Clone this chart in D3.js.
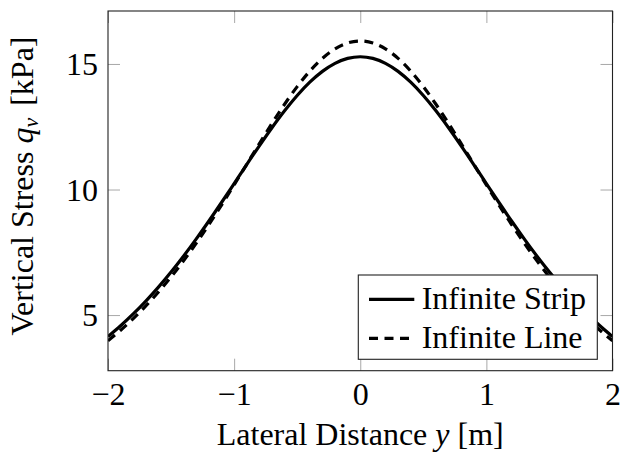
<!DOCTYPE html>
<html>
<head>
<meta charset="utf-8">
<script src="https://cdn.jsdelivr.net/npm/d3@7"></script>
<style>
  html, body { margin: 0; padding: 0; background: #fff; }
  svg { display: block; }
  text { font-family: "Liberation Serif", "Times New Roman", serif; fill: #000; }
</style>
</head>
<body>
<svg id="chart" width="623" height="459"></svg>
<script>
// Lateral positions y [m]
const lateral = [-2.0,-1.9,-1.8,-1.7,-1.6,-1.5,-1.4,-1.3,-1.2,-1.1,-1.0,-0.9,-0.8,-0.7,-0.6,-0.5,-0.4,-0.3,-0.2,-0.1,
                 0.0,0.1,0.2,0.3,0.4,0.5,0.6,0.7,0.8,0.9,1.0,1.1,1.2,1.3,1.4,1.5,1.6,1.7,1.8,1.9,2.0];

// Vertical stress under an infinite strip load [kPa]
const stripStress = [4.144,4.573,5.044,5.557,6.113,6.712,7.353,8.033,8.745,9.483,10.237,10.995,11.741,12.461,13.135,13.745,14.275,14.706,15.025,15.221,
                     15.288,15.221,15.025,14.706,14.275,13.745,13.135,12.461,11.741,10.995,10.237,9.483,8.745,8.033,7.353,6.712,6.113,5.557,5.044,4.573,4.144];

// Vertical stress under an infinite line load [kPa]
const lineStress = [3.979,4.397,4.858,5.364,5.917,6.519,7.169,7.865,8.605,9.381,10.186,11.007,11.828,12.631,13.396,14.098,14.715,15.223,15.602,15.836,
                    15.915,15.836,15.602,15.223,14.715,14.098,13.396,12.631,11.828,11.007,10.186,9.381,8.605,7.865,7.169,6.519,5.917,5.364,4.858,4.397,3.979];

const xTicks = [-2, -1, 0, 1, 2];
const yTicks = [5, 10, 15];
const xDomain = [-2, 2];
const yDomain = [2.785, 17.109];

const seriesNames = ["Infinite Strip", "Infinite Line"];

const svg = d3.select("#chart");
const W = 623, H = 459;
const plot = { left: 108, right: 612.5, top: 11, bottom: 370.7 };
const FONT = 32;
const SERIF = "Liberation Serif, Times New Roman, serif";

svg.append("rect").attr("width", W).attr("height", H).attr("fill", "#fff");

const x = d3.scaleLinear().domain(xDomain).range([plot.left, plot.right]);
const y = d3.scaleLinear().domain(yDomain).range([plot.bottom, plot.top]);

const tickLen = 12;
const tickColor = "#a8a8a8";

// Bottom axis: inward ticks with labels
const gx = svg.append("g")
  .attr("transform", `translate(0,${plot.bottom})`)
  .call(d3.axisBottom(x).tickValues(xTicks).tickSizeInner(-tickLen).tickSizeOuter(0).tickFormat(d3.format("d")));
gx.select(".domain").remove();
gx.selectAll(".tick line").attr("stroke", tickColor).attr("stroke-width", 1);
gx.selectAll(".tick text")
  .attr("y", 34.3).attr("dy", null)
  .style("font-size", FONT + "px").style("font-family", SERIF);

// Top axis: mirrored ticks only
const gxt = svg.append("g")
  .attr("transform", `translate(0,${plot.top})`)
  .call(d3.axisTop(x).tickValues(xTicks).tickSizeInner(-tickLen).tickSizeOuter(0).tickFormat(""));
gxt.select(".domain").remove();
gxt.selectAll(".tick line").attr("stroke", tickColor).attr("stroke-width", 1);

// Left axis: inward ticks with labels
const gy = svg.append("g")
  .attr("transform", `translate(${plot.left},0)`)
  .call(d3.axisLeft(y).tickValues(yTicks).tickSizeInner(-tickLen).tickSizeOuter(0).tickFormat(d3.format("d")));
gy.select(".domain").remove();
gy.selectAll(".tick line").attr("stroke", tickColor).attr("stroke-width", 1);
gy.selectAll(".tick text")
  .attr("x", -10).attr("dy", "0.34em")
  .style("font-size", FONT + "px").style("font-family", SERIF);

// Right axis: mirrored ticks only
const gyr = svg.append("g")
  .attr("transform", `translate(${plot.right},0)`)
  .call(d3.axisRight(y).tickValues(yTicks).tickSizeInner(-tickLen).tickSizeOuter(0).tickFormat(""));
gyr.select(".domain").remove();
gyr.selectAll(".tick line").attr("stroke", tickColor).attr("stroke-width", 1);

// Curves, clipped to the plotting area
svg.append("clipPath").attr("id", "plotClip")
  .append("rect")
  .attr("x", plot.left).attr("y", plot.top)
  .attr("width", plot.right - plot.left).attr("height", plot.bottom - plot.top);

const line = d3.line().curve(d3.curveMonotoneX)
  .x(d => x(d[0])).y(d => y(d[1]));

const curves = svg.append("g").attr("clip-path", "url(#plotClip)");
curves.append("path")
  .datum(lateral.map((v, i) => [v, lineStress[i]]))
  .attr("d", line).attr("fill", "none").attr("stroke", "#000")
  .attr("stroke-width", 3.2).attr("stroke-dasharray", "9,6.5");
curves.append("path")
  .datum(lateral.map((v, i) => [v, stripStress[i]]))
  .attr("d", line).attr("fill", "none").attr("stroke", "#000")
  .attr("stroke-width", 3.2);

// Frame
svg.append("rect")
  .attr("x", plot.left).attr("y", plot.top)
  .attr("width", plot.right - plot.left).attr("height", plot.bottom - plot.top)
  .attr("fill", "none").attr("stroke", "#222").attr("stroke-width", 1.1);

// Axis titles
svg.append("text")
  .attr("x", (plot.left + plot.right) / 2).attr("y", 445)
  .attr("text-anchor", "middle").style("font-size", FONT + "px")
  .call(t => {
    t.append("tspan").text("Lateral Distance ");
    t.append("tspan").style("font-style", "italic").text("y");
    t.append("tspan").text(" [m]");
  });

svg.append("text")
  .attr("transform", "translate(33,186) rotate(-90)")
  .attr("text-anchor", "middle").style("font-size", FONT + "px")
  .call(t => {
    t.append("tspan").text("Vertical Stress ");
    t.append("tspan").style("font-style", "italic").text("q");
    t.append("tspan").style("font-style", "italic").style("font-size", "22px").attr("dy", 5).text("v");
    t.append("tspan").attr("dy", -5).attr("dx", 12).text("[kPa]");
  });

// Legend
const lg = svg.append("g");
lg.append("rect")
  .attr("x", 358.3).attr("y", 275).attr("width", 239).attr("height", 84.3)
  .attr("fill", "#fff").attr("stroke", "#222").attr("stroke-width", 1.1);
const rows = [
  { name: seriesNames[0], cy: 299.3, dash: null },
  { name: seriesNames[1], cy: 338.3, dash: "9,6.5" }
];
rows.forEach(r => {
  lg.append("line")
    .attr("x1", 369).attr("x2", 414.3).attr("y1", r.cy).attr("y2", r.cy)
    .attr("stroke", "#000").attr("stroke-width", 3.2)
    .attr("stroke-dasharray", r.dash);
  lg.append("text")
    .attr("x", 421.7).attr("y", r.cy + 9.5)
    .style("font-size", FONT + "px").text(r.name);
});
</script>
</body>
</html>
